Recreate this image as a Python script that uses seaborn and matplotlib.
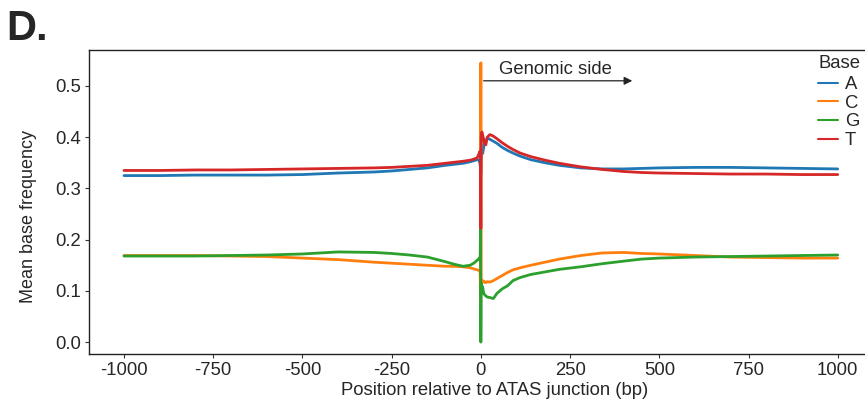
import pandas as pd
import seaborn as sns
import matplotlib.pyplot as plt

# positions (bp) and mean base frequency
positions = [-1000, -900, -800, -700, -600, -500, -400, -300, -250, -200, -150, -100, -75, -50,
             -30, -20, -10, -5, -3, -2, -1, 0, 1, 2, 3, 5, 8, 10, 14, 18, 25, 35, 45, 60, 75,
             90, 110, 140, 180, 220, 280, 340, 400, 450, 500, 600, 700, 800, 900, 1000]

freq_A = [0.325, 0.325, 0.326, 0.326, 0.326, 0.327, 0.330, 0.332, 0.334, 0.337, 0.340, 0.345, 0.347, 0.349,
          0.352, 0.354, 0.356, 0.355, 0.350, 0.345, 0.340, 0.330, 0.365, 0.370, 0.372, 0.368, 0.380, 0.395,
          0.392, 0.398, 0.396, 0.392, 0.388, 0.380, 0.374, 0.369, 0.363, 0.356, 0.350, 0.345, 0.340, 0.338,
          0.338, 0.339, 0.340, 0.341, 0.341, 0.340, 0.339, 0.338]
freq_C = [0.169, 0.169, 0.169, 0.168, 0.167, 0.164, 0.161, 0.156, 0.154, 0.152, 0.150, 0.148, 0.148, 0.147,
          0.145, 0.143, 0.141, 0.140, 0.138, 0.135, 0.086, 0.545, 0.125, 0.120, 0.118, 0.120, 0.117, 0.118,
          0.116, 0.118, 0.117, 0.120, 0.124, 0.130, 0.136, 0.141, 0.145, 0.150, 0.156, 0.162, 0.169, 0.174,
          0.175, 0.173, 0.172, 0.169, 0.166, 0.165, 0.164, 0.164]
freq_G = [0.168, 0.168, 0.168, 0.169, 0.170, 0.172, 0.176, 0.175, 0.173, 0.170, 0.166, 0.157, 0.152, 0.148,
          0.150, 0.154, 0.160, 0.163, 0.165, 0.160, 0.222, 0.000, 0.115, 0.110, 0.100, 0.108, 0.095, 0.093,
          0.090, 0.088, 0.087, 0.085, 0.095, 0.104, 0.110, 0.120, 0.126, 0.132, 0.137, 0.142, 0.147, 0.153,
          0.158, 0.162, 0.164, 0.166, 0.167, 0.168, 0.169, 0.170]
freq_T = [0.335, 0.335, 0.336, 0.336, 0.337, 0.338, 0.339, 0.340, 0.341, 0.343, 0.345, 0.349, 0.351, 0.353,
          0.355, 0.357, 0.360, 0.368, 0.372, 0.365, 0.360, 0.222, 0.400, 0.408, 0.410, 0.405, 0.395, 0.390,
          0.385, 0.400, 0.405, 0.402, 0.397, 0.389, 0.382, 0.376, 0.369, 0.362, 0.355, 0.349, 0.342, 0.337,
          0.333, 0.331, 0.330, 0.329, 0.328, 0.328, 0.327, 0.327]

bases = ["A", "C", "G", "T"]
colors = ["#1f77b4", "#ff7f0e", "#2ca02c", "#d62728"]
x_ticks = [-1000, -750, -500, -250, 0, 250, 500, 750, 1000]
y_ticks = [0.0, 0.1, 0.2, 0.3, 0.4, 0.5]

df = pd.DataFrame({
    "pos": positions * 4,
    "freq": freq_A + freq_C + freq_G + freq_T,
    "Base": [b for b in bases for _ in positions],
})

sns.set_style("ticks")
plt.rcParams["font.family"] = ["Liberation Sans", "DejaVu Sans"]
fs = 13.3

fig = plt.figure(figsize=(8.65, 4.07), dpi=100)
ax = fig.add_axes([0.1029, 0.130, 0.906, 0.747])

sns.lineplot(data=df, x="pos", y="freq", hue="Base", palette=dict(zip(bases, colors)),
             linewidth=2.0, ax=ax, estimator=None, sort=False)

ax.set_xlim(-1098, 1098)
ax.set_ylim(-0.0234, 0.570)
ax.set_xticks(x_ticks)
ax.set_xticklabels([str(t) for t in x_ticks])
ax.set_yticks(y_ticks)
ax.set_yticklabels([f"{t:.1f}" for t in y_ticks])
ax.tick_params(labelsize=fs, length=3, width=0.8, color="#333333", pad=2.5)
for s in ["left", "bottom", "top"]:
    ax.spines[s].set_linewidth(1.0)
    ax.spines[s].set_color("#222222")
ax.spines["right"].set_visible(False)

ax.set_xlabel("Position relative to ATAS junction (bp)", fontsize=fs)
ax.set_ylabel("Mean base frequency", fontsize=13)
ax.xaxis.set_label_coords(0.518, -0.092)
ax.yaxis.set_label_coords(-0.066, 0.452)

ax.annotate("", xy=(432, 0.51), xytext=(0, 0.51),
            arrowprops=dict(arrowstyle="-|>", color="#222222", lw=0.9, mutation_scale=12))
ax.text(210, 0.532, "Genomic side", ha="center", va="center", fontsize=fs)

leg = ax.legend(frameon=False, fontsize=fs,
                loc="upper left", bbox_to_anchor=(818 / 865, 1 - 76 / 407),
                bbox_transform=fig.transFigure, borderpad=0, borderaxespad=0,
                handlelength=1.1, handletextpad=0.35, labelspacing=0.09)
for line in leg.get_lines():
    line.set_linewidth(1.5)
fig.text(818 / 865, 1 - 64 / 407, "Base", fontsize=fs, ha="left", va="center")

fig.text(6 / 865, 1 - 9 / 407, "D.", fontsize=30, fontweight="bold", va="top", ha="left")

fig.savefig("out.png", dpi=100)
